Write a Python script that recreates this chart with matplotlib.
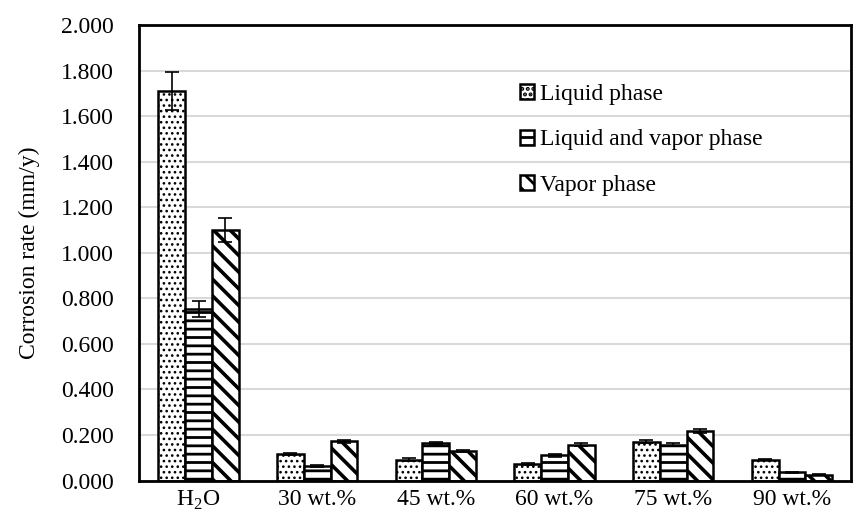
import matplotlib
matplotlib.use('Agg')
import numpy as np
import matplotlib.pyplot as plt

categories = ['H$_2$O', '30 wt.%', '45 wt.%', '60 wt.%', '75 wt.%', '90 wt.%']
liquid = [1.711, 0.117, 0.091, 0.073, 0.170, 0.092]
liquid_vapor = [0.752, 0.062, 0.164, 0.110, 0.157, 0.037]
vapor = [1.099, 0.173, 0.129, 0.158, 0.217, 0.026]
liquid_err = [0.083, 0.005, 0.006, 0.004, 0.007, 0.004]
liquid_vapor_err = [0.036, 0.004, 0.007, 0.005, 0.006, 0.002]
vapor_err = [0.053, 0.007, 0.005, 0.006, 0.008, 0.002]

plt.rcParams['font.family'] = ['Liberation Serif', 'DejaVu Serif']
plt.rcParams['hatch.linewidth'] = 2.0
plt.rcParams['mathtext.fontset'] = 'custom'
plt.rcParams['mathtext.rm'] = 'Liberation Serif'

fig = plt.figure(figsize=(8.59, 5.22), dpi=100)
ax = fig.add_axes([0.162, 0.0795, 0.829, 0.8725])

x = np.arange(len(categories))
w = 0.226
# name, values, errors, hatch, hatch line width
series = [
    ('Liquid phase', liquid, liquid_err, '...', 1.1),
    ('Liquid and vapor phase', liquid_vapor, liquid_vapor_err, '--', 2.0),
    ('Vapor phase', vapor, vapor_err, '\\\\', 2.6),
]
for i, (name, vals, errs, hatch, hlw) in enumerate(series):
    bars = ax.bar(x + (i - 1) * w, vals, w, color='white', edgecolor='black',
                  linewidth=1.8, hatch=hatch, label=name, zorder=2)
    for b in bars:
        if hasattr(b, 'set_hatch_linewidth'):
            b.set_hatch_linewidth(hlw)
    ax.errorbar(x + (i - 1) * w, vals, yerr=errs, fmt='none', ecolor='black',
                elinewidth=1.2, capsize=5, capthick=1.2, zorder=3)

ax.set_xlim(-0.5, len(categories) - 0.5)
ax.set_ylim(0, 2.0)
ax.set_yticks(np.arange(0, 2.01, 0.2))
ax.set_yticklabels([f'{v:.3f}' for v in np.arange(0, 2.01, 0.2)])
ax.set_xticks(x)
ax.set_xticklabels(categories)
ax.tick_params(length=0, labelsize=17)
ax.tick_params(axis='y', pad=18)
ax.tick_params(axis='x', pad=6)
ax.yaxis.grid(True, color='#d9d9d9', linewidth=1.5, zorder=0)
ax.set_axisbelow(True)
for s in ax.spines.values():
    s.set_linewidth(2)
ax.set_ylabel('Corrosion rate (mm/y)', fontsize=17, labelpad=15)

leg = ax.legend(loc='upper left', bbox_to_anchor=(0.505, 0.918), frameon=False,
                fontsize=17, handlelength=0.6, handleheight=0.6,
                handletextpad=0.25, labelspacing=1.05)

plt.savefig('out.png', dpi=100)
